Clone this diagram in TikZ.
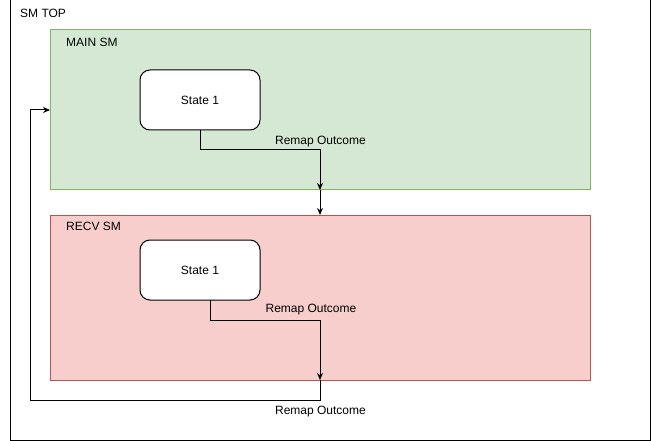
\documentclass[tikz,border=0pt]{standalone}
\usepackage{fontspec}
\setmainfont{Liberation Sans}
\usetikzlibrary{arrows.meta}
\definecolor{gfill}{HTML}{D5E8D4}
\definecolor{gline}{HTML}{82B366}
\definecolor{rfill}{HTML}{F8CECC}
\definecolor{rline}{HTML}{B85450}
\begin{document}
\begin{tikzpicture}[x=1pt,y=-1pt,
  font=\fontsize{12}{14}\selectfont,
  box/.style={rectangle,inner sep=0pt,outer sep=0pt,anchor=north west,line width=1pt},
  statebox/.style={draw,rounded corners=10pt,fill=white,line width=1pt,minimum width=120pt,minimum height=60pt,inner sep=0pt,outer sep=0pt},
  title/.style={anchor=west,inner sep=0pt},
  lbl/.style={inner sep=0pt},
  arr/.style={line width=1pt,-{Stealth[length=7pt,width=6pt]}}]
\useasboundingbox (0,0) rectangle (651,441);
\node[box,draw,minimum width=640pt,minimum height=440pt] (top) at (10,0) {};
\node[title] (ttop) at (20,13) {SM TOP};
\node[box,draw=gline,fill=gfill,minimum width=540pt,minimum height=160pt] (main) at (50,30) {};
\node[title] (tmain) at (66,42) {MAIN SM};
\node[box,draw=rline,fill=rfill,minimum width=540pt,minimum height=165pt] (recv) at (50,215) {};
\node[title] (trecv) at (66,226) {RECV SM};
\node[statebox] (s1) at (200,100) {State 1};
\node[statebox] (s2) at (200,270) {State 1};
\coordinate (k1) at (320,150);
\coordinate (k2) at (320,320);
\coordinate (k3) at (30,400);
\draw[arr] (s1.south) |- (k1) -- (k1 |- main.south);
\draw[arr] (main.south -| k1) -- (k1 |- recv.north);
\draw[arr] ([xshift=10pt]s2.south) |- (k2) -- (k2 |- recv.south);
\draw[arr] (recv.south -| k2) |- (k3) |- (main.west);
\node[lbl] (l1) at (320.5,141.5) {Remap Outcome};
\node[lbl] (l2) at (311,309.5) {Remap Outcome};
\node[lbl] (l3) at (320.5,411.5) {Remap Outcome};
\end{tikzpicture}
\end{document}
